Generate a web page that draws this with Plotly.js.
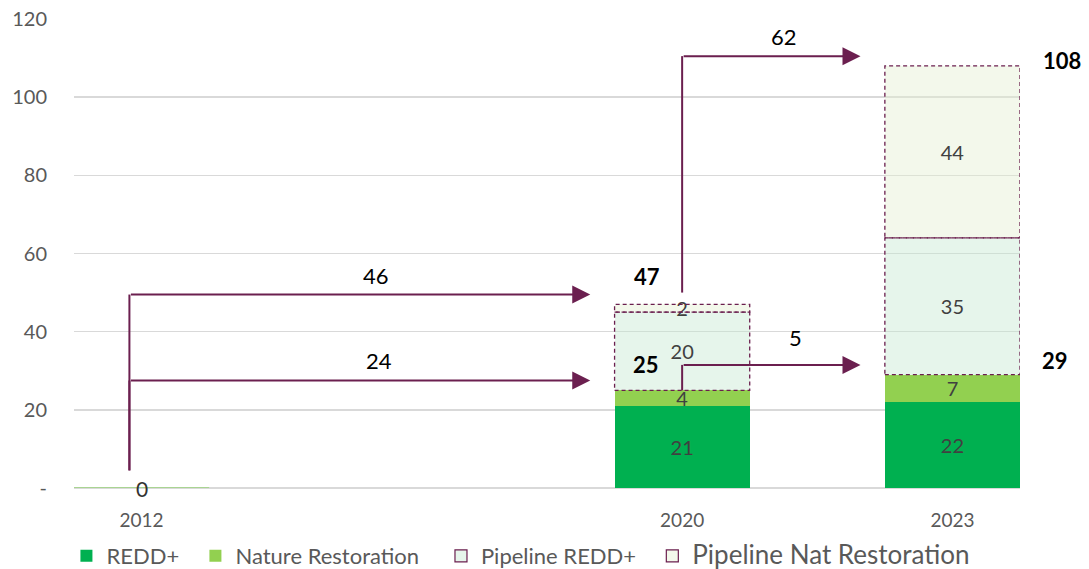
<!DOCTYPE html>
<html>
<head>
<meta charset="utf-8">
<script src="https://cdn.plot.ly/plotly-3.0.1.min.js"></script>
<style>html,body{margin:0;padding:0;background:#fff}#chart{width:1089px;height:569px}</style>
</head>
<body>
<div id="chart"></div>
<script>
// ---- data ----
const categories = ['2012', ' ', '2020', '2023'];
const redd = [0, null, 21, 22];
const natureRestoration = [0, null, 4, 7];
const pipelineRedd = [null, null, 20, 35];
const pipelineNat = [null, null, 2, 44];
const realisedTotals = [null, null, 25, 29];
const allTotals = [null, null, 47, 108];
const yTickVals = [0, 20, 40, 60, 80, 100, 120];
const yTickText = ['-', '20', '40', '60', '80', '100', '120'];
// flows (arrows)
const flowFrom = ['2012', '2012', '2020', '2020'];
const flowTo = ['2020', '2020', '2023', '2023'];
const flowLabels = ['46', '24', '62', '5'];
const flowStartValue = [0, 0, 47, 25];
const flowEndValue = [47, 25, 108, 29];

// ---- styling ----
const FONT = 'Lato, "Open Sans", sans-serif';
const MAROON = '#6b1f4f';
const TXT = '#404040';
const AX = '#595959';
const cIdx = c => categories.indexOf(c);
const half = 0.25;
const XR = [-0.25, 3.25];
const YR = [0, 120];
const toPaperX = v => (v - XR[0]) / (XR[1] - XR[0]);
const toPaperY = v => (v - YR[0]) / (YR[1] - YR[0]);
const pad = n => '\u00a0'.repeat(n);

function sum(a, b) { return a.map((v, i) => (v == null ? null : v + (b[i] || 0))); }
const base2 = sum(redd, natureRestoration);
const base3 = sum(base2, pipelineRedd);

function labels(arr) { return arr.map(v => (v == null || v === 0 ? '' : String(v))); }

const common = {
  type: 'bar', x: categories, textposition: 'inside', insidetextanchor: 'middle', textangle: 0,
  constraintext: 'none', textfont: {family: FONT, size: 20, color: TXT}, hoverinfo: 'skip'
};

const traces = [
  Object.assign({}, common, {
    name: 'REDD+' + pad(2), y: redd, text: labels(redd),
    marker: {color: '#00b050', line: {width: 0}}
  }),
  Object.assign({}, common, {
    name: 'Nature Restoration' + pad(3), y: natureRestoration, text: labels(natureRestoration),
    marker: {color: '#92d050', line: {width: 0}}
  }),
  Object.assign({}, common, {
    name: 'Pipeline REDD+' + pad(2), y: pipelineRedd, text: labels(pipelineRedd),
    marker: {color: 'rgba(196,232,208,0.42)', line: {width: [1.2, 0, 0, 0], color: MAROON}}
  }),
  Object.assign({}, common, {
    name: '<span style="font-size:26px">Pipeline Nat Restoration</span>', y: pipelineNat, text: labels(pipelineNat),
    marker: {color: 'rgba(226,238,208,0.42)', line: {width: [1.2, 0, 0, 0], color: MAROON}}
  })
];

const shapes = [];
const annotations = [];
const DASH = '4px,3px';

// dashed outlines for pipeline segments
categories.forEach((c, i) => {
  if (pipelineRedd[i] != null) {
    shapes.push({type: 'rect', xref: 'x', yref: 'y', x0: i - half, x1: i + half,
      y0: base2[i], y1: base3[i], line: {color: MAROON, width: 1.3, dash: DASH}, layer: 'above'});
  }
  if (pipelineNat[i] != null) {
    shapes.push({type: 'rect', xref: 'x', yref: 'y', x0: i - half, x1: i + half,
      y0: base3[i], y1: base3[i] + pipelineNat[i], line: {color: MAROON, width: 1.3, dash: DASH}, layer: 'above'});
  }
});
// zero bar line for 2012
categories.forEach((c, i) => {
  if (redd[i] === 0 && natureRestoration[i] === 0) {
    shapes.push({type: 'line', xref: 'x', yref: 'y', x0: i - half, x1: i + half, y0: 0, y1: 0,
      line: {color: '#98d27a', width: 1.5}, layer: 'above'});
    annotations.push({x: i, y: 0, xref: 'x', yref: 'y', text: '0', showarrow: false,
      font: {family: FONT, size: 21, color: '#333'}, yanchor: 'middle'});
  }
});

// totals (paper coords so labels right of the plot area still show)
categories.forEach((c, i) => {
  const isLast = i === categories.length - 1;
  if (realisedTotals[i] != null) {
    annotations.push({x: toPaperX(isLast ? i + 0.38 : i - 0.135), y: toPaperY(realisedTotals[i] + (isLast ? 3.7 : 6.6)),
      xref: 'paper', yref: 'paper', xanchor: 'center', yanchor: 'middle',
      text: '<b>' + realisedTotals[i] + '</b>', showarrow: false,
      font: {family: FONT, size: 22, color: '#000'}});
  }
  if (allTotals[i] != null) {
    annotations.push({x: toPaperX(isLast ? i + 0.405 : i - 0.13), y: toPaperY(allTotals[i] + (isLast ? 1.5 : 7.2)),
      xref: 'paper', yref: 'paper', xanchor: 'center', yanchor: 'middle',
      text: '<b>' + allTotals[i] + '</b>', showarrow: false,
      font: {family: FONT, size: 22, color: '#000'}});
  }
});

// flow arrows
const startOffset = [4.5, 4.5, 3, 0];
const xShift = [-0.045, -0.045, 0, 0];
const labelDx = [0.06, 0.07, 0.045, 0.09];
const labelDy = [5.0, 5.0, 5.0, 7.0];
flowFrom.forEach((f, k) => {
  const xs = cIdx(f) + xShift[k];
  const xe = cIdx(flowTo[k]) - half - 0.09;
  const level = flowEndValue[k] + 2.5;
  const y0 = flowStartValue[k] + startOffset[k];
  shapes.push({type: 'line', xref: 'x', yref: 'y', x0: xs, x1: xs, y0: y0, y1: level,
    line: {color: MAROON, width: 2}, layer: 'above'});
  annotations.push({x: xe, y: level, ax: xs, ay: level, xref: 'x', yref: 'y', axref: 'x', ayref: 'y',
    text: '', showarrow: true, arrowhead: 2, arrowsize: 1.8, arrowwidth: 2, arrowcolor: MAROON, standoff: 0});
  annotations.push({x: (xs + xe) / 2 + labelDx[k], y: level + labelDy[k], xref: 'x', yref: 'y',
    text: flowLabels[k], showarrow: false, font: {family: FONT, size: 22, color: '#000'}});
});

const layout = {
  width: 1089, height: 569,
  margin: {l: 74, r: 69, t: 19, b: 81, autoexpand: false},
  paper_bgcolor: '#fff', plot_bgcolor: '#fff',
  barmode: 'stack', bargap: 0.5,
  font: {family: FONT, color: AX},
  showlegend: true,
  legend: {orientation: 'h', x: -0.008, xanchor: 'left', y: -0.145, yanchor: 'middle',
    font: {family: FONT, size: 22, color: AX}, traceorder: 'normal', itemwidth: 30},
  xaxis: {type: 'category', categoryorder: 'array', categoryarray: categories,
    range: XR, showgrid: false, zeroline: false, showline: false, ticks: '',
    tickfont: {family: FONT, size: 19, color: AX}, ticklabelstandoff: 19, fixedrange: true},
  yaxis: {range: YR, tickvals: yTickVals, ticktext: yTickText, showgrid: true,
    gridcolor: '#d9d9d9', gridwidth: 1.5, zeroline: true, zerolinecolor: '#d9d9d9', zerolinewidth: 1.5,
    showline: false, ticks: '', tickfont: {family: FONT, size: 20, color: AX}, ticklabelstandoff: 26},
  shapes: shapes,
  annotations: annotations
};

Plotly.newPlot('chart', traces, layout, {displayModeBar: false, staticPlot: true});
</script>
</body>
</html>
